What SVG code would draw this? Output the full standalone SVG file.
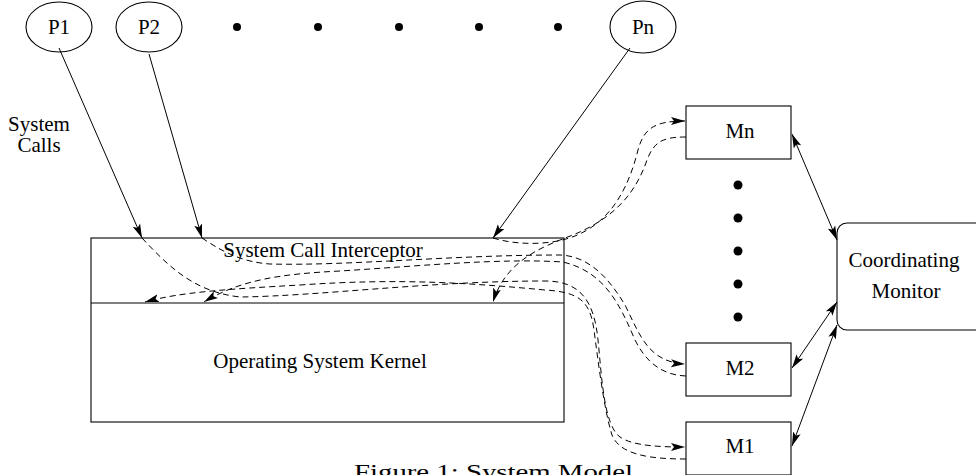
<svg xmlns="http://www.w3.org/2000/svg" width="976" height="475" viewBox="0 0 976 475">
<style>
text{font-family:"Liberation Serif","Times New Roman",serif;font-size:21px;fill:#000}
.sh{fill:#fff;stroke:#000;stroke-width:1.1}
.ln{fill:none;stroke:#000;stroke-width:1}
.da{fill:none;stroke:#000;stroke-width:1;stroke-dasharray:6 4}
.dot{fill:#000}
</style>
<defs>
<marker id="ah" viewBox="0 0 14 10" markerUnits="userSpaceOnUse" markerWidth="14" markerHeight="10" refX="14" refY="5" orient="auto">
<path d="M0,1 L14,5 L0,9 L3,5 Z" fill="#000"/>
</marker>
<marker id="ahs" viewBox="0 0 14 10" markerUnits="userSpaceOnUse" markerWidth="14" markerHeight="10" refX="14" refY="5" orient="auto-start-reverse">
<path d="M0,1 L14,5 L0,9 L3,5 Z" fill="#000"/>
</marker>
</defs>
<rect width="976" height="475" fill="#fff"/>

<g id="P1"><ellipse class="sh" cx="59" cy="27" rx="33" ry="25"/><text x="59" y="34" text-anchor="middle">P1</text></g>
<g id="P2"><ellipse class="sh" cx="149" cy="27" rx="33" ry="25"/><text x="149" y="34" text-anchor="middle">P2</text></g>
<g id="Pn"><ellipse class="sh" cx="643" cy="27" rx="33" ry="26"/><text x="643" y="34" text-anchor="middle">Pn</text></g>
<g id="hdots">
<circle class="dot" cx="237" cy="27" r="4"/><circle class="dot" cx="318" cy="27" r="4"/><circle class="dot" cx="399" cy="27" r="4"/><circle class="dot" cx="479" cy="27" r="4"/><circle class="dot" cx="558" cy="27" r="4"/>
</g>
<g id="syscalls-label"><text x="39" y="131" text-anchor="middle">System</text><text x="39" y="152" text-anchor="middle">Calls</text></g>

<g id="kernel">
<rect class="sh" x="91" y="238" width="473" height="184"/>
<line class="ln" x1="91" y1="303" x2="564" y2="303" stroke-width="1.1"/>
<text x="323" y="257" text-anchor="middle">System Call Interceptor</text>
<text x="320" y="368" text-anchor="middle">Operating System Kernel</text>
</g>

<g id="Mn"><rect class="sh" x="686" y="106" width="105" height="53"/><text x="740" y="138" text-anchor="middle">Mn</text></g>
<g id="M2"><rect class="sh" x="686" y="343" width="105" height="53"/><text x="740" y="375" text-anchor="middle">M2</text></g>
<g id="M1"><rect class="sh" x="686" y="422" width="105" height="53"/><text x="740" y="453" text-anchor="middle">M1</text></g>
<g id="vdots">
<circle class="dot" cx="738" cy="185" r="4.5"/><circle class="dot" cx="738" cy="218" r="4.5"/><circle class="dot" cx="738" cy="251" r="4.5"/><circle class="dot" cx="738" cy="284" r="4.5"/><circle class="dot" cx="738" cy="317" r="4.5"/>
</g>
<g id="CM"><rect class="sh" x="837" y="223" width="170" height="107" rx="10"/><text x="904" y="267" text-anchor="middle">Coordinating</text><text x="906" y="298" text-anchor="middle">Monitor</text></g>

<g id="connectors">
<line class="ln" x1="59" y1="48" x2="142" y2="238" marker-end="url(#ah)"/>
<line class="ln" x1="149" y1="54" x2="202" y2="238" marker-end="url(#ah)"/>
<line class="ln" x1="630" y1="48" x2="493" y2="238" marker-end="url(#ah)"/>

<path class="da" d="M142,238 C170,268 195,292 240,297 C320,296 430,281 545,281 C580,281 594,300 598,340 C602,380 604,425 620,437 C633,446 660,447 685,447" marker-end="url(#ah)"/>
<path class="da" d="M686,459 C650,459 620,455 612,435 C604,410 598,360 594,330 C590,300 578,292 545,290 C470,283 400,278 300,285 C230,289 180,292 145,302" marker-end="url(#ah)"/>
<path class="da" d="M202,238 C220,250 240,262 270,264 C350,266 450,255 560,255 C590,256 610,280 625,305 C640,335 648,362 685,364" marker-end="url(#ah)"/>
<path class="da" d="M686,376 C660,375 645,360 635,340 C620,305 605,272 563,262 C500,258 420,266 340,271 C280,274 240,280 204,302" marker-end="url(#ah)"/>
<path class="da" d="M493,238 C515,245 550,246 575,236 C610,222 628,190 638,150 C644,128 655,121 685,121" marker-end="url(#ah)"/>
<path class="da" d="M686,137 C662,137 654,142 647,160 C636,192 615,220 565,238 C540,248 505,262 493,302" marker-end="url(#ah)"/>

<line class="ln" x1="792" y1="134" x2="837" y2="240" marker-start="url(#ahs)" marker-end="url(#ahs)"/>
<line class="ln" x1="792" y1="368" x2="837" y2="302" marker-start="url(#ahs)" marker-end="url(#ahs)"/>
<line class="ln" x1="792" y1="446" x2="837" y2="325" marker-start="url(#ahs)" marker-end="url(#ahs)"/>
</g>

<text x="354" y="479" font-size="28" textLength="279" lengthAdjust="spacingAndGlyphs">Figure 1: System Model</text>
</svg>
